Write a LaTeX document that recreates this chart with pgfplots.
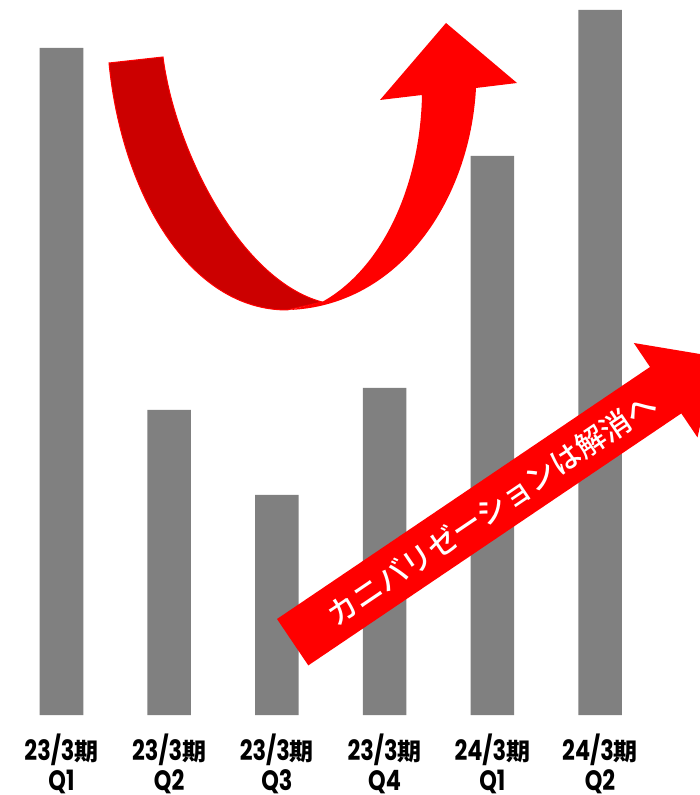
\documentclass[border=0pt]{standalone}
\usepackage{pgfplots}
\pgfplotsset{compat=1.18}
\usepackage{fontspec}
\newfontfamily\lab{Poppins}[FakeStretch=0.8]
\newfontfamily\cjk{Noto Sans CJK JP}
\newfontfamily\cjkm{Noto Sans CJK JP Medium}
\definecolor{bargray}{HTML}{808080}
\definecolor{darkred}{HTML}{CC0000}
\definecolor{arrred}{HTML}{FF0000}
\newcommand{\lbl}[2]{{\lab\bfseries #1}{\cjk\bfseries\fontsize{12}{15}\selectfont 期}\\{\lab\bfseries #2}}
\begin{document}
\begin{tikzpicture}
\begin{axis}[
  at={(0,0)}, anchor=south west, scale only axis,
  width=349.5pt, height=357.5pt,
  xmin=-0.571, xmax=5.919, ymin=0, ymax=715,
  axis line style={draw=none}, major tick length=0pt,
  ytick=\empty, xtick={0,...,5},
  xticklabels={\lbl{23/3}{Q1},\lbl{23/3}{Q2},\lbl{23/3}{Q3},\lbl{23/3}{Q4},\lbl{24/3}{Q1},\lbl{24/3}{Q2}},
  xticklabel style={align=center, anchor=north, inner sep=0pt, yshift=-9pt, font=\fontsize{14}{15}\selectfont},
  clip=false,
]
\addplot[ybar, bar width=0.404, fill=bargray, draw=none] coordinates {(0,667) (1,305) (2,220) (3,327) (4,559) (5,705)};
\end{axis}
\begin{scope}[yshift=357.5pt, x=0.5pt, y=-0.5pt]
  % curved U arrow: bright part
  \fill[arrred] (290,310) .. controls (400,305) and (470,200) .. (476,88)
     -- (517,83) -- (446,23) -- (380,100) -- (422,95)
     .. controls (420,190) and (380,270) .. (322,302) -- cycle;
  % dark part
  \filldraw[fill=darkred, draw=arrred, line width=0.5pt]
     (109,63) .. controls (122,195) and (190,310) .. (287,310) -- (322,302)
     .. controls (240,280) and (175,150) .. (163,57) -- cycle;
  % straight arrow
  \fill[arrred] (277,619) -- (650,367) -- (633.8,343) -- (715.4,356.6)
     -- (697.5,437.4) -- (681.3,413.4) -- (308.3,665.4) -- cycle;
  \node[rotate=34.05, text=white, inner sep=0pt, font=\cjkm\fontsize{15}{15}\selectfont] at (491.5,509) {カニバリゼーションは解消へ};
  \pgfresetboundingbox
  \path[use as bounding box] (0,0) rectangle (699,795);
\end{scope}
\end{tikzpicture}
\end{document}
